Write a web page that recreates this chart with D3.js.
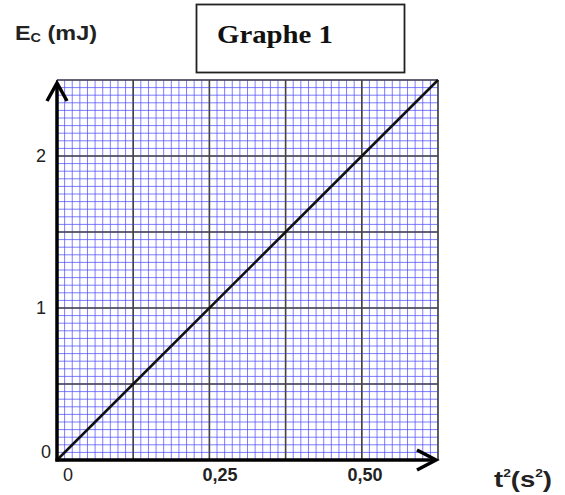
<!DOCTYPE html>
<html><head><meta charset="utf-8">
<script src="https://cdn.jsdelivr.net/npm/d3@7/dist/d3.min.js"></script>
<style>body{margin:0;background:#fff}svg{display:block}</style>
</head><body>
<script>
// data
const xDomain = [0, 0.625];
const yDomain = [0, 2.5];
const xTickValues = [0, 0.25, 0.5];
const xTickLabels = ["0", "0,25", "0,50"];
const yTickValues = [0, 1, 2];
const yTickLabels = ["0", "1", "2"];
const lineT2 = [0, 0.625];
const lineEc = [0, 2.5];
const title = "Graphe 1";

const W = 565, H = 495;
const svg = d3.select("body").append("svg").attr("width", W).attr("height", H);
const x = d3.scaleLinear().domain(xDomain).range([57, 438]);
const y = d3.scaleLinear().domain(yDomain).range([460, 80]);

// minor grid
const minorX = d3.range(0, 51).map(i => i * 0.0125);
const minorY = d3.range(0, 51).map(i => i * 0.05);
const g = svg.append("g");
g.selectAll(".mx").data(minorX).join("line")
  .attr("x1", d => x(d)).attr("x2", d => x(d)).attr("y1", y(0)).attr("y2", y(2.5))
  .attr("stroke", "#4848ff").attr("stroke-width", 1).attr("opacity", 0.7);
g.selectAll(".my").data(minorY).join("line")
  .attr("y1", d => y(d)).attr("y2", d => y(d)).attr("x1", x(0)).attr("x2", x(0.625))
  .attr("stroke", "#4848ff").attr("stroke-width", 1).attr("opacity", 0.7);
// major grid
const majorX = d3.range(0, 6).map(i => i * 0.125);
const majorY = d3.range(0, 6).map(i => i * 0.5);
g.selectAll(".Mx").data(majorX).join("line")
  .attr("x1", d => x(d)).attr("x2", d => x(d)).attr("y1", y(0)).attr("y2", y(2.5))
  .attr("stroke", "#444").attr("stroke-width", 1.6);
g.selectAll(".My").data(majorY).join("line")
  .attr("y1", d => y(d)).attr("y2", d => y(d)).attr("x1", x(0)).attr("x2", x(0.625))
  .attr("stroke", "#444").attr("stroke-width", 1.6);

// data line
svg.append("path")
  .attr("d", d3.line()(lineT2.map((t, i) => [x(t), y(lineEc[i])])))
  .attr("stroke", "#111").attr("stroke-width", 2.6).attr("fill", "none");

// axes
svg.append("line").attr("x1", x(0)).attr("x2", x(0)).attr("y1", y(0) + 1.5).attr("y2", 83)
  .attr("stroke", "#000").attr("stroke-width", 3.5);
svg.append("line").attr("x1", x(0) - 1.5).attr("x2", 436).attr("y1", y(0)).attr("y2", y(0))
  .attr("stroke", "#000").attr("stroke-width", 3.5);
svg.append("path").attr("d", `M${x(0) - 10},101 L${x(0)},83 L${x(0) + 10},101`)
  .attr("stroke", "#000").attr("stroke-width", 3.5).attr("fill", "none");
svg.append("path").attr("d", `M417,450 L436,${y(0)} L417,470`)
  .attr("stroke", "#000").attr("stroke-width", 3.5).attr("fill", "none");

// tick labels
const font = "'Liberation Sans', Arial, sans-serif";
svg.selectAll(".yl").data(yTickValues).join("text")
  .attr("x", (d, i) => i === 0 ? 51 : 46).attr("y", (d, i) => (i === 0 ? y(d) - 8 : y(d)) + 6)
  .attr("text-anchor", "end").attr("font-family", font).attr("font-size", 18).attr("fill", "#222")
  .text((d, i) => yTickLabels[i]);
const xLabelPos = [68, 220, 365];
svg.selectAll(".xl").data(xTickValues).join("text")
  .attr("x", (d, i) => xLabelPos[i]).attr("y", 481)
  .attr("text-anchor", "middle").attr("font-family", font).attr("font-size", 18)
  .attr("font-weight", (d, i) => i === 0 ? "normal" : "bold").attr("fill", "#222")
  .text((d, i) => xTickLabels[i]);

// axis titles
const yt = svg.append("text").attr("x", 15).attr("y", 40).attr("font-family", font)
  .attr("font-weight", "bold").attr("font-size", 21).attr("fill", "#222")
  .attr("textLength", 82).attr("lengthAdjust", "spacingAndGlyphs");
yt.append("tspan").text("E");
yt.append("tspan").attr("font-size", 13).attr("dy", 2).text("C");
yt.append("tspan").attr("dy", -2).text(" (mJ)");

const xt = svg.append("text").attr("x", 494).attr("y", 487).attr("font-family", font)
  .attr("font-weight", "bold").attr("font-size", 22).attr("fill", "#222")
  .attr("textLength", 58).attr("lengthAdjust", "spacingAndGlyphs");
xt.append("tspan").text("t");
xt.append("tspan").attr("font-size", 11).attr("dy", -10).text("2");
xt.append("tspan").attr("dy", 10).text("(s");
xt.append("tspan").attr("font-size", 11).attr("dy", -10).text("2");
xt.append("tspan").attr("dy", 10).text(")");

// title box
svg.append("rect").attr("x", 196.5).attr("y", 4.5).attr("width", 208).attr("height", 68)
  .attr("fill", "#fff").attr("stroke", "#222").attr("stroke-width", 1.8);
svg.append("text").attr("x", 217).attr("y", 43)
  .attr("font-family", "'Liberation Serif', 'Times New Roman', serif").attr("font-weight", "bold")
  .attr("font-size", 25).attr("fill", "#111")
  .attr("textLength", 116).attr("lengthAdjust", "spacingAndGlyphs").text(title);
</script>
</body></html>
